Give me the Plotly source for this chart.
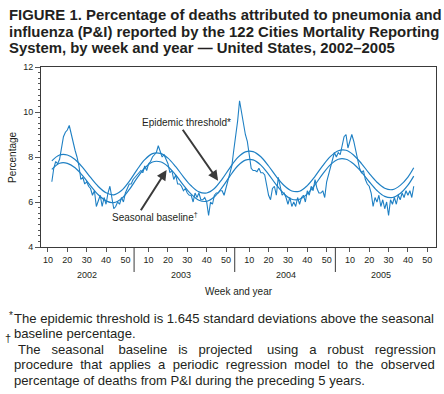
import plotly.graph_objects as go

# ---------------- data ----------------
years = [2002, 2003, 2004, 2005]

weeks_2002 = list(range(12, 53))
obs_2002 = [6.9, 7.5, 7.8, 7.7, 7.9, 8.4, 8.9, 9.1, 9.2, 9.4,
            9.0, 8.7, 8.3, 8.0, 7.6, 7.0, 7.1, 6.8, 6.9, 6.7,
            6.6, 6.3, 6.5, 5.8, 6.1, 6.3, 5.8, 6.2, 5.9, 6.4,
            6.7, 6.1, 5.7, 5.8, 6.0, 5.9, 6.2, 6.0, 6.4, 6.6,
            6.8]

weeks_2003 = list(range(1, 53))
obs_2003 = [6.8, 7.0, 7.1, 7.2, 7.3, 7.4, 7.3, 7.6, 7.4, 7.7,
            7.8, 8.0, 8.1, 8.2, 8.5, 8.2, 8.0, 8.1, 7.9, 7.7,
            7.3, 7.4, 7.0, 7.2, 6.8, 6.8, 6.7, 6.5, 6.6, 6.4,
            6.3, 6.3, 6.0, 6.4, 6.2, 6.4, 6.1, 6.1, 6.2, 6.0,
            5.4, 6.0, 5.9, 6.3, 6.4, 6.4, 6.5, 6.5, 6.3, 6.6,
            7.0, 7.3]

weeks_2004 = list(range(1, 53))
obs_2004 = [7.6, 8.3, 8.9, 9.6, 10.5, 10.0, 9.4, 9.0, 8.7, 8.0,
            7.5, 7.4, 7.4, 7.35, 7.5, 7.3, 7.3, 7.2, 6.8, 6.3,
            6.1, 6.6, 6.7, 6.3, 7.1, 6.7, 6.3, 6.4, 6.2, 5.9,
            6.2, 5.8, 6.0, 5.8, 6.2, 5.9, 6.2, 6.3, 6.0, 6.5,
            6.3, 6.7, 6.5, 7.0, 6.6, 6.4, 6.4, 6.5, 6.2, 6.9,
            7.2, 7.6]

weeks_2005 = list(range(1, 44))
obs_2005 = [7.8, 8.2, 8.0, 8.2, 8.1, 8.5, 8.9, 9.0, 8.4, 8.7,
            9.0, 8.7, 8.3, 8.0, 7.5, 7.3, 7.4, 7.0, 6.8, 6.7,
            6.4, 5.8, 6.2, 6.0, 6.3, 5.8, 6.1, 5.7, 6.0, 5.4,
            6.1, 5.9, 6.2, 5.9, 6.3, 6.1, 6.4, 6.2, 6.5, 6.3,
            6.5, 6.2, 6.7]

# smooth curves, sampled every 4 weeks (week index counted from start of 2002)
curve_x = [12, 16, 20, 24, 28, 32, 36, 40, 44, 48, 52, 56, 60, 64, 68, 72,
           76, 80, 84, 88, 92, 96, 100, 104, 108, 112, 116, 120, 124, 128,
           132, 136, 140, 144, 148, 152, 156, 160, 164, 168, 172, 176, 180,
           184, 188, 192, 196, 199]
baseline = [7.45, 7.72, 7.72, 7.52, 7.16, 6.72, 6.32, 6.05, 5.97, 6.15,
            6.55, 7.06, 7.51, 7.78, 7.79, 7.58, 7.20, 6.75, 6.35, 6.08,
            6.03, 6.23, 6.65, 7.15, 7.60, 7.86, 7.87, 7.64, 7.23, 6.76,
            6.36, 6.12, 6.12, 6.36, 6.77, 7.25, 7.66, 7.90, 7.90, 7.69,
            7.33, 6.90, 6.51, 6.25, 6.20, 6.38, 6.75, 7.15]
threshold = [7.83, 8.09, 8.09, 7.89, 7.53, 7.09, 6.69, 6.41, 6.32, 6.51,
             6.92, 7.43, 7.88, 8.15, 8.16, 7.95, 7.57, 7.12, 6.72, 6.45,
             6.40, 6.60, 7.02, 7.52, 7.97, 8.23, 8.24, 8.01, 7.60, 7.13,
             6.73, 6.49, 6.48, 6.73, 7.14, 7.62, 8.03, 8.28, 8.30, 8.08,
             7.71, 7.27, 6.88, 6.61, 6.55, 6.74, 7.11, 7.52]

tick_weeks = [10, 20, 30, 40, 50]
y_ticks = [4, 6, 8, 10, 12]

# ---------------- build ----------------
WPY = 52
obs_x, obs_y = [], []
for yr, wk, vals in [(2002, weeks_2002, obs_2002), (2003, weeks_2003, obs_2003),
                     (2004, weeks_2004, obs_2004), (2005, weeks_2005, obs_2005)]:
    for w, v in zip(wk, vals):
        obs_x.append((yr - 2002) * WPY + w)
        obs_y.append(v)

BLUE = "#1f80c4"
FONT = "Liberation Sans, Arial, Helvetica, sans-serif"
TXT = "#231f20"

fig = go.Figure()
fig.add_trace(go.Scatter(x=curve_x, y=threshold, mode="lines",
                         line=dict(color=BLUE, width=1.2, shape="spline"),
                         hoverinfo="skip", showlegend=False))
fig.add_trace(go.Scatter(x=curve_x, y=baseline, mode="lines",
                         line=dict(color=BLUE, width=1.2, shape="spline"),
                         hoverinfo="skip", showlegend=False))
fig.add_trace(go.Scatter(x=obs_x, y=obs_y, mode="lines",
                         line=dict(color=BLUE, width=1.1),
                         showlegend=False))

tickvals, ticktext = [], []
for i, yr in enumerate(years):
    for w in tick_weeks:
        tickvals.append(i * WPY + w)
        ticktext.append(str(w))

L, R, T, B = 41, 8, 67, 147
PW, PH = 444 - L - R, 394 - T - B


def px(xp):
    return (xp - L) / PW


def py(yp):
    return (394 - B - yp) / PH


annotations = []
# title
title_lines = ["FIGURE 1. Percentage of deaths attributed to pneumonia and",
               "influenza (P&I) reported by the 122 Cities Mortality Reporting",
               "System, by week and year \u2014 United States, 2002\u20132005"]
for ln, yc in zip(title_lines, [15, 31.7, 48.3]):
    annotations.append(dict(text="<b>" + ln + "</b>", xref="paper", yref="paper",
                            x=px(7), y=py(yc), xanchor="left", yanchor="middle",
                            showarrow=False, font=dict(family=FONT, size=14.9, color=TXT)))

# axis titles
annotations.append(dict(text="Percentage", xref="paper", yref="paper", x=px(12), y=py(157),
                        textangle=-90, xanchor="center", yanchor="middle", showarrow=False,
                        font=dict(family=FONT, size=10, color=TXT)))
annotations.append(dict(text="Week and year", xref="paper", yref="paper", x=px(238.5), y=py(291.5),
                        xanchor="center", yanchor="middle", showarrow=False,
                        font=dict(family=FONT, size=10, color=TXT)))

# year labels
year_centers = [30.3, 78.9, 133.2, 182.3]
for yr, xc in zip(years, year_centers):
    annotations.append(dict(text=str(yr), xref="x", yref="paper", x=xc, y=py(275),
                            xanchor="center", yanchor="middle", showarrow=False,
                            font=dict(family=FONT, size=9, color=TXT)))

# curve labels and arrows
annotations.append(dict(text="Epidemic threshold*", xref="x", yref="y", x=81.5, y=9.55,
                        xanchor="center", yanchor="middle", showarrow=False,
                        font=dict(family=FONT, size=10, color=TXT)))
annotations.append(dict(text="", xref="x", yref="y", axref="x", ayref="y",
                        x=97.9, y=6.95, ax=79.1, ay=9.28, showarrow=True,
                        arrowhead=2, arrowsize=1, arrowwidth=2, arrowcolor="#3a3a3a",
                        standoff=0))
annotations.append(dict(text="Seasonal baseline<sup>\u2020</sup>", xref="x", yref="y", x=65.5, y=5.33,
                        xanchor="center", yanchor="middle", showarrow=False,
                        font=dict(family=FONT, size=10, color=TXT)))
annotations.append(dict(text="", xref="x", yref="y", axref="x", ayref="y",
                        x=71.3, y=7.42, ax=57.5, ay=5.57, showarrow=True,
                        arrowhead=2, arrowsize=1, arrowwidth=2, arrowcolor="#3a3a3a",
                        standoff=0))

# footnotes (lines 3-4 are justified in the reference; emulate with extra spaces)
NB = "\u00a0"


def justify(words, gaps):
    out = words[0]
    for wd, g in zip(words[1:], gaps):
        out += NB * g + " " + wd
    return out


FN = dict(family=FONT, size=13.1, color=TXT)
foot = [
    ("The epidemic threshold is 1.645 standard deviations above the seasonal", 14, 318),
    ("baseline percentage.", 14, 333),
    (justify("The seasonal baseline is projected using a robust regression".split(" "),
             [2, 3, 2, 2, 3, 2, 2, 2]), 18, 349),
    (justify("procedure that applies a periodic regression model to the observed".split(" "),
             [1] * 9), 14, 364),
    ("percentage of deaths from P&I during the preceding 5 years.", 14, 380),
]
for t, xl, yc in foot:
    annotations.append(dict(text=t, xref="paper", yref="paper", x=px(xl - 2), y=py(yc),
                            xanchor="left", yanchor="middle", showarrow=False, font=FN))
annotations.append(dict(text="*", xref="paper", yref="paper", x=px(7), y=py(315),
                        xanchor="left", yanchor="middle", showarrow=False,
                        font=dict(family=FONT, size=10, color=TXT)))
annotations.append(dict(text="\u2020", xref="paper", yref="paper", x=px(3), y=py(338),
                        xanchor="left", yanchor="middle", showarrow=False,
                        font=dict(family=FONT, size=11, color=TXT)))

# year dividers
shapes = []
for i in range(1, 4):
    xd = i * WPY + 2.5
    shapes.append(dict(type="line", xref="x", yref="paper", x0=xd, x1=xd,
                       y0=0, y1=py(272), line=dict(color="#3a3a3a", width=1)))

fig.update_layout(
    width=444, height=394,
    margin=dict(l=L, r=R, t=T, b=B),
    paper_bgcolor="white", plot_bgcolor="white",
    font=dict(family=FONT, color=TXT),
    annotations=annotations, shapes=shapes,
    xaxis=dict(range=[6.4, 210.5], tickvals=tickvals, ticktext=ticktext,
               ticks="outside", ticklen=4, tickcolor="#555", tickwidth=1,
               showline=True, mirror=True, linecolor="#3a3a3a", linewidth=1,
               showgrid=False, zeroline=False,
               tickfont=dict(family=FONT, size=9, color=TXT)),
    yaxis=dict(range=[4, 12], tickvals=y_ticks,
               ticks="outside", ticklen=5, tickcolor="#555", tickwidth=1,
               minor=dict(ticks="outside", dtick=0.25, ticklen=2, tickcolor="#555"),
               showline=True, mirror=True, linecolor="#3a3a3a", linewidth=1,
               showgrid=False, zeroline=False,
               tickfont=dict(family=FONT, size=9, color=TXT)),
)

fig.write_html("out.html", config={"displayModeBar": False},
               post_script="document.body.style.margin='0px';document.body.style.padding='0px';")
